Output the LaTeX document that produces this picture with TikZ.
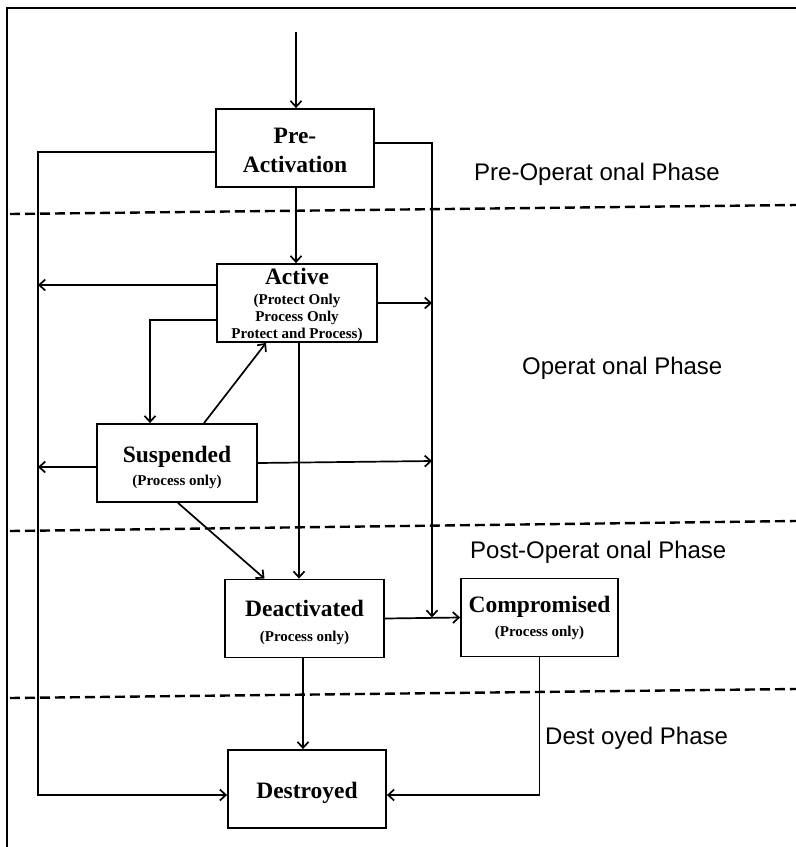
\documentclass[tikz,border=0pt]{standalone}
\usepackage{fontspec}
\setmainfont{Liberation Serif}
\newfontfamily\phasefont{Liberation Sans}
\usetikzlibrary{arrows.meta,calc}
\tikzset{
  box/.style={draw, line width=1.8pt, rectangle, minimum width=#1, minimum height=78pt, inner sep=0pt},
  box/.default=159pt,
  boxtext/.style={inner sep=0pt, align=center, font=\bfseries\fontsize{23.5}{25}\selectfont},
  arr/.style={line width=1.7pt, -{Straight Barb[length=6pt,width=11pt,line width=1.7pt]}},
  dashline/.style={line width=2.4pt, dash pattern=on 10pt off 5pt},
  phase/.style={anchor=west, inner sep=0pt, font=\phasefont\fontsize{24}{26}\selectfont},
}
\newcommand{\subtxt}[1]{{\fontsize{15}{17}\selectfont #1}}
\begin{document}
\begin{tikzpicture}[x=1pt,y=-1pt]
\useasboundingbox (0,0) rectangle (796,847);
% frame
\draw[line width=2pt] (7,847) -- (7,8) -- (796,8);
% phase separators
\draw[dashline] (10,214) -- (796,205);
\draw[dashline] (10,531) -- (796,521);
\draw[dashline] (10,698) -- (796,689);
% phase labels
\node[phase] (ph1) at (474,174) {Pre-Operat onal Phase};
\node[phase] (ph2) at (522,368) {Operat onal Phase};
\node[phase] (ph3) at (470,552) {Post-Operat onal Phase};
\node[phase] (ph4) at (545,738) {Dest oyed Phase};
% states
\node[box=158pt] (pre) at (295,148) {};
\node[boxtext] (pretext) at ([yshift=-2pt]pre.center) {Pre-\\[4pt]Activation};
\node[box=160pt] (active) at (297,303) {};
\node[boxtext] (activetext) at ([yshift=-2pt]active.center) {Active\\[-5pt]\subtxt{(Protect Only}\\[-8pt]\subtxt{Process Only}\\[-8pt]\subtxt{Protect and Process)}};
\node[box=160pt] (susp) at (177,463) {};
\node[boxtext] (susptext) at ([yshift=-4pt]susp.center) {Suspended\\[-2pt]\subtxt{(Process only)}};
\node[box=159pt] (deact) at (304.5,618.5) {};
\node[boxtext] (deacttext) at ([yshift=-4pt]deact.center) {Deactivated\\[0pt]\subtxt{(Process only)}};
\node[box=157pt] (comp) at (539.5,617.5) {};
\node[boxtext] (comptext) at (comp.center) {Compromised\\[-1pt]\subtxt{(Process only)}};
\node[box=158pt] (dest) at (307,789) {};
\node[boxtext] (desttext) at ([yshift=-4pt]dest.center) {Destroyed};
% bus coordinates
\coordinate (start) at (296,32);
\coordinate (lbus) at (38,0);
\coordinate (rbus) at (432,0);
% connectors
\draw[arr] (start) -- (start |- pre.north);
\draw[arr] (pre.south -| start) -- (start |- active.north);
\draw[arr] ([yshift=-4pt]pre.west) -| ([yshift=-6pt]dest.west -| lbus) -- ([yshift=-6pt]dest.west);
\draw[arr] ([yshift=5pt]pre.east) -| ([yshift=1pt]rbus |- deact.east);
\draw[arr] ([yshift=18pt]active.west) -- ([yshift=18pt]active.west -| lbus);
\draw[arr] ([yshift=-17pt]active.west) -| ([xshift=-27pt]susp.north);
\draw[arr] (active.east) -- (active.east -| rbus);
\draw[arr] ([xshift=2pt]active.south) -- ([xshift=-5.5pt]deact.north);
\draw[arr] ([xshift=27pt]susp.north) -- ([xshift=-31pt]active.south);
\draw[arr] ([yshift=-4pt]susp.west) -- ([yshift=-4pt]susp.west -| lbus);
\draw[arr] (susp.east) -- ([yshift=2pt]susp.east -| rbus);
\draw[arr] ([xshift=1pt]susp.south) -- ([xshift=-40pt]deact.north);
\draw[arr] (deact.east) -- (comp.west);
\draw[arr] ([xshift=-1.5pt]deact.south) -- ([xshift=-1.5pt]deact.south |- dest.north);
\draw[arr] (comp.south) |- ([yshift=-6pt]dest.east);
\end{tikzpicture}
\end{document}
